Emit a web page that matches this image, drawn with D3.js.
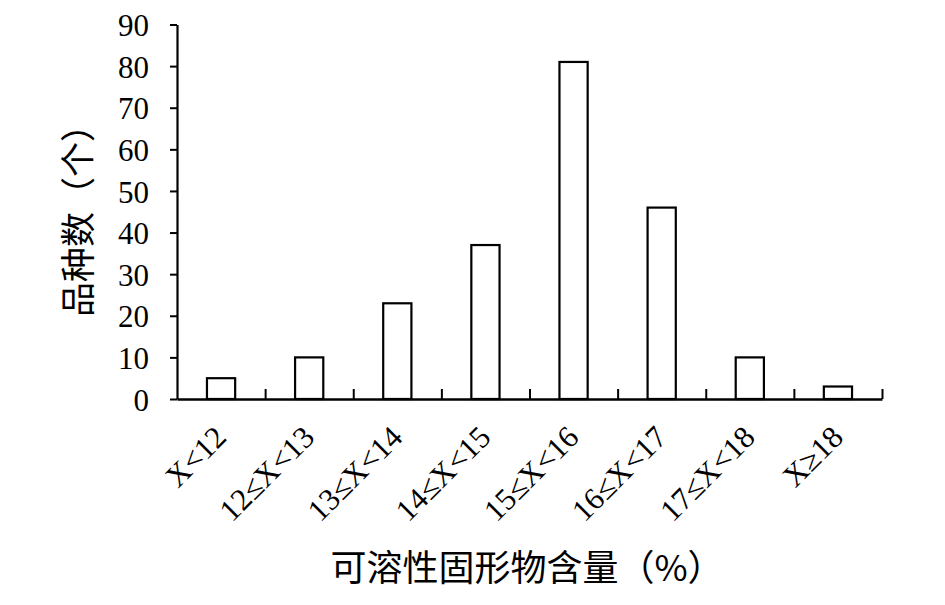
<!DOCTYPE html>
<html>
<head>
<meta charset="utf-8">
<script src="https://cdn.jsdelivr.net/npm/d3@7"></script>
<style>
  html, body { margin: 0; padding: 0; background: #fff; }
  svg { display: block; }
  .tick text { font-family: "Liberation Serif", "Times New Roman", serif; }
</style>
</head>
<body>
<svg id="chart" width="945" height="605"></svg>
<script>
const categories = ["X<12", "12≤X<13", "13≤X<14", "14≤X<15", "15≤X<16", "16≤X<17", "17≤X<18", "X≥18"];
const counts = [5, 10, 23, 37, 81, 46, 10, 3];
const yTicks = [0, 10, 20, 30, 40, 50, 60, 70, 80, 90];
const yTitle = "品种数（个）";
const xTitle = "可溶性固形物含量（%）";

const svg = d3.select("#chart");
const plotLeft = 177, plotRight = 882, plotTop = 24.5, plotBottom = 399;

const x = d3.scaleBand().domain(categories).range([plotLeft, plotRight]).paddingInner(0.68).paddingOuter(0.34);
const xEdge = d3.scaleLinear().domain([0, categories.length]).range([plotLeft, plotRight]);
const y = d3.scaleLinear().domain([0, 90]).range([plotBottom, plotTop]);

// bars
svg.append("g").selectAll("rect").data(categories).join("rect")
  .attr("x", d => x(d))
  .attr("width", x.bandwidth())
  .attr("y", (d, i) => y(counts[i]))
  .attr("height", (d, i) => y(0) - y(counts[i]))
  .attr("fill", "#fff")
  .attr("stroke", "#000")
  .attr("stroke-width", 2.2);

// y axis
const yAxis = svg.append("g").attr("transform", `translate(${plotLeft},0)`)
  .call(d3.axisLeft(y).tickValues(yTicks).tickSize(7).tickSizeOuter(0).tickPadding(21));
yAxis.select(".domain").attr("stroke-width", 2.2);
yAxis.selectAll(".tick line").attr("stroke-width", 2);
yAxis.selectAll(".tick text").attr("font-size", 31).attr("fill", "#000").attr("dy", "0.36em");

// x axis with boundary ticks
const xAxis = svg.append("g").attr("transform", `translate(0,${plotBottom})`)
  .call(d3.axisBottom(xEdge).tickValues(d3.range(1, categories.length + 1)).tickSize(-10).tickSizeOuter(0).tickFormat(""));
xAxis.select(".domain").attr("stroke-width", 2.4);
xAxis.selectAll(".tick line").attr("stroke-width", 2);

// x category labels rotated
svg.append("g").selectAll("text").data(categories).join("text")
  .attr("transform", d => `translate(${x(d) + x.bandwidth() / 2 + 7},${plotBottom + 40}) rotate(-45)`)
  .attr("text-anchor", "end")
  .attr("font-family", "'Liberation Serif', 'Times New Roman', serif")
  .attr("font-size", 31)
  .attr("fill", "#000")
  .text(d => d);

// axis titles
svg.append("text")
  .attr("transform", `translate(91,212) rotate(-90)`)
  .attr("text-anchor", "middle")
  .attr("font-family", "'Noto Sans CJK SC', sans-serif")
  .attr("font-size", 35)
  .attr("fill", "#000")
  .text(yTitle);

svg.append("text")
  .attr("x", 527).attr("y", 581)
  .attr("text-anchor", "middle")
  .attr("font-family", "'Noto Sans CJK SC', sans-serif")
  .attr("font-size", 36)
  .attr("fill", "#000")
  .text(xTitle);
</script>
</body>
</html>
